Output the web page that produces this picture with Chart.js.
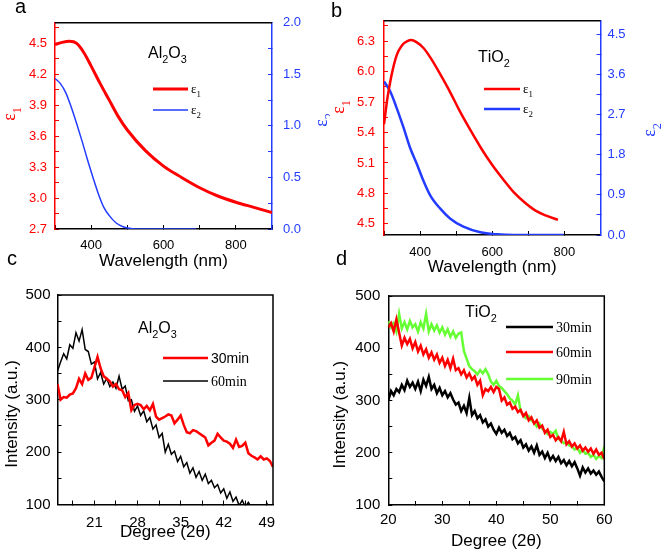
<!DOCTYPE html>
<html>
<head>
<meta charset="utf-8">
<script src="https://cdn.jsdelivr.net/npm/chart.js@4.4.1/dist/chart.umd.min.js"></script>
<style>
  body { margin: 0; background: #fff; }
  #fig { position: relative; width: 661px; height: 555px; overflow: hidden; background: #fff; }
  #fig canvas { position: absolute; }
  .tag { position: absolute; font: 20px Arial, "Liberation Sans", sans-serif; line-height: 20px; color: #000; }
</style>
</head>
<body>
<div id="fig">
  <canvas id="ca" width="330" height="275" style="left:0;top:0"></canvas>
  <canvas id="cb" width="331" height="275" style="left:330px;top:0"></canvas>
  <canvas id="cc" width="330" height="280" style="left:0;top:275px"></canvas>
  <canvas id="cd" width="331" height="280" style="left:330px;top:275px"></canvas>
  <div class="tag" style="left:15px;top:-4px">a</div>
  <div class="tag" style="left:331px;top:0px">b</div>
  <div class="tag" style="left:7px;top:248px">c</div>
  <div class="tag" style="left:336px;top:248px">d</div>
</div>
<script>
// ---- panel a: Al2O3 dielectric function ----
const wlA1 = [300, 320, 340, 360, 380, 400, 425, 450, 475, 500, 550, 600, 650, 700, 750, 800, 850, 900];
const eps1A = [4.49, 4.51, 4.52, 4.50, 4.41, 4.28, 4.11, 3.95, 3.79, 3.66, 3.46, 3.31, 3.20, 3.10, 3.02, 2.96, 2.91, 2.86];
const wlA2 = [300, 315, 330, 345, 360, 375, 390, 405, 420, 435, 450, 470, 490, 510, 530, 560, 600, 650, 690];
const eps2A = [1.46, 1.41, 1.32, 1.18, 1.02, 0.85, 0.67, 0.50, 0.34, 0.21, 0.13, 0.056, 0.02, 0.005, 0, 0, 0, 0, 0];

// ---- panel b: TiO2 dielectric function ----
const wlB1 = [300, 310, 320, 335, 350, 365, 375, 390, 410, 430, 455, 480, 510, 540, 570, 600, 630, 660, 690, 720, 750, 782];
const eps1B = [5.48, 5.75, 5.95, 6.16, 6.26, 6.30, 6.31, 6.29, 6.23, 6.13, 5.98, 5.82, 5.61, 5.42, 5.24, 5.08, 4.94, 4.81, 4.71, 4.63, 4.58, 4.54];
const wlB2 = [300, 317, 335, 354, 372, 391, 409, 428, 456, 483, 520, 567, 613, 660, 700, 750, 798];
const eps2B = [3.44, 3.22, 2.85, 2.41, 1.96, 1.59, 1.22, 0.89, 0.59, 0.37, 0.185, 0.06, 0.015, 0, 0, 0, 0];

// ---- panel c: Al2O3 XRD ----
const degC = [15, 15.5, 16, 16.5, 17, 17.5, 18, 18.5, 19, 19.5, 20, 20.5, 21, 21.5, 22, 22.5, 23, 23.5, 24, 24.5,
  25, 25.5, 26, 26.5, 27, 27.5, 28, 28.5, 29, 29.5, 30, 30.5, 31, 31.5, 32, 32.5, 33, 33.5, 34, 34.5,
  35, 35.5, 36, 36.5, 37, 37.5, 38, 38.5, 39, 39.5, 40, 40.5, 41, 41.5, 42, 42.5, 43, 43.5, 44, 44.5,
  45, 45.5, 46, 46.5, 47, 47.5, 48, 48.5, 49, 49.5, 50];
const int30C = [330, 300, 305, 304, 310, 312, 322, 340, 330, 350, 338, 342, 362, 382, 360, 345, 340, 335, 325, 330,
  320, 318, 305, 313, 280, 290, 292, 290, 282, 288, 280, 292, 268, 262, 265, 268, 272, 270, 255, 262,
  270, 252, 238, 236, 242, 240, 236, 232, 228, 213, 218, 222, 235, 228, 222, 220, 216, 208, 224, 210,
  212, 218, 198, 193, 190, 186, 192, 186, 188, 183, 172];
const int60C = [355, 372, 388, 378, 405, 398, 428, 412, 434, 396, 392, 368, 372, 340, 352, 330, 341, 325, 334, 322,
  345, 320, 326, 298, 300, 278, 288, 270, 279, 258, 266, 244, 252, 228, 236, 200, 215, 196, 202, 182,
  192, 172, 180, 160, 170, 152, 163, 146, 158, 140, 146, 132, 138, 122, 130, 112, 124, 106, 114, 98,
  108, 96, 104, 94, 98, 92, 96, 90, 102, 92, 95];

// ---- panel d: TiO2 XRD ----
const degD = [20, 20.5, 21, 21.5, 22, 22.5, 23, 23.5, 24, 24.5, 25, 25.5, 26, 26.5, 27, 27.5, 28, 28.5, 29, 29.5,
  30, 30.5, 31, 31.5, 32, 32.5, 33, 33.5, 34, 34.5, 35, 35.5, 36, 36.5, 37, 37.5, 38, 38.5, 39, 39.5,
  40, 40.5, 41, 41.5, 42, 42.5, 43, 43.5, 44, 44.5, 45, 45.5, 46, 46.5, 47, 47.5, 48, 48.5, 49, 49.5,
  50, 50.5, 51, 51.5, 52, 52.5, 53, 53.5, 54, 54.5, 55, 55.5, 56, 56.5, 57, 57.5, 58, 58.5, 59, 59.5, 60];
const int30D = [300, 318, 310, 322, 316, 330, 320, 338, 326, 334, 322, 336, 318, 340, 328, 345, 322, 330, 314, 324,
  310, 318, 306, 314, 302, 292, 296, 280, 290, 276, 305, 272, 280, 266, 272, 258, 264, 250, 256, 244,
  236, 248, 238, 244, 232, 238, 226, 230, 218, 224, 210, 216, 204, 212, 200, 214, 196, 202, 190, 200,
  186, 194, 184, 192, 180, 186, 176, 184, 174, 182, 170, 156, 172, 162, 170, 160, 166, 158, 164, 154, 145];
const int60D = [440, 448, 432, 455, 430, 405, 420, 408, 418, 400, 412, 394, 405, 388, 398, 382, 392, 378, 388, 372,
  382, 366, 378, 362, 380, 358, 362, 350, 358, 344, 352, 340, 346, 330, 338, 310, 322, 318, 326, 316,
  326, 322, 300, 306, 292, 296, 284, 288, 278, 282, 270, 276, 262, 268, 256, 262, 248, 252, 238, 244,
  230, 234, 224, 230, 222, 240, 216, 222, 212, 218, 208, 214, 204, 210, 202, 208, 198, 206, 196, 200, 188];
const int90D = [452, 440, 448, 432, 466, 438, 450, 436, 452, 440, 446, 432, 450, 438, 466, 432, 446, 434, 444, 430,
  440, 426, 436, 422, 432, 420, 428, 430, 395, 380, 366, 360, 356, 350, 358, 352, 360, 350, 336, 330,
  338, 328, 324, 318, 312, 304, 300, 292, 310, 280, 272, 266, 270, 262, 258, 250, 256, 246, 242, 236,
  240, 236, 242, 226, 224, 218, 220, 214, 212, 206, 210, 200, 206, 198, 200, 192, 196, 188, 194, 190, 212];

// ---- tick labels (major, labelled) and minor tick positions ----
const waveTicks = ['400', '600', '800'];
const waveMinor = [300, 500, 700, 900];
const eps1TicksA = ['2.7', '3.0', '3.3', '3.6', '3.9', '4.2', '4.5'];
const eps1MinorA = [2.85, 3.15, 3.45, 3.75, 4.05, 4.35, 4.65];
const eps2TicksA = ['0.0', '0.5', '1.0', '1.5', '2.0'];
const eps2MinorA = [0.25, 0.75, 1.25, 1.75];
const eps1TicksB = ['4.5', '4.8', '5.1', '5.4', '5.7', '6.0', '6.3'];
const eps1MinorB = [4.65, 4.95, 5.25, 5.55, 5.85, 6.15, 6.45];
const eps2TicksB = ['0.0', '0.9', '1.8', '2.7', '3.6', '4.5'];
const eps2MinorB = [0.45, 1.35, 2.25, 3.15, 4.05];
const degTicksC = ['21', '28', '35', '42', '49'];
const degMinorC = [17.5, 24.5, 31.5, 38.5, 45.5];
const degTicksD = ['20', '30', '40', '50', '60'];
const degMinorD = [25, 35, 45, 55];
const intTicks = ['100', '200', '300', '400', '500'];
const intMinor = [150, 250, 350, 450];

const RED = 'rgb(255,0,0)', BLUE = 'rgb(35,60,255)', BLACK = '#000', GREEN = 'rgb(102,255,51)';
const SANS = 'Arial, "Liberation Sans", sans-serif';
const SERIF = '"Times New Roman", "Liberation Serif", serif';

Chart.defaults.font.family = SANS;
Chart.defaults.animation = false;

// text like 'Al_2O_3': the char after _ is drawn as a subscript; returns end x
function richText(ctx, text, x, y, size, family, color, measureOnly) {
	ctx.fillStyle = color;
	ctx.textBaseline = 'alphabetic';
	ctx.textAlign = 'left';
	for (let i = 0; i < text.length; i++) {
		let ch = text[i], sub = false;
		if (ch === '_') { ch = text[++i]; sub = true; }
		const s = sub ? size * 0.68 : size;
		ctx.font = s + 'px ' + family;
		if (!measureOnly) ctx.fillText(ch, x, y + (sub ? size * 0.3 : 0));
		x += ctx.measureText(ch).width;
	}
	return x;
}

// rotated (bottom-to-top) axis title centred on cx, cy
function sideTitle(ctx, t) {
	ctx.save();
	ctx.translate(t.x, t.y);
	ctx.rotate(-Math.PI / 2);
	const w = richText(ctx, t.text, 0, 0, t.size, SERIF, t.color, true);
	richText(ctx, t.text, -w / 2, t.size * 0.3, t.size, SERIF, t.color);
	ctx.restore();
}

// frame, sample name, side titles and inset legend
const extras = {
	id: 'extras',
	afterDatasetsDraw(chart, args, o) {
		const ctx = chart.ctx, a = chart.chartArea;
		ctx.save();
		ctx.strokeStyle = BLACK;
		ctx.lineWidth = 1.5;
		ctx.beginPath();
		ctx.moveTo(a.left, a.top);
		ctx.lineTo(a.right, a.top);
		if (o.boxRight) ctx.lineTo(a.right, a.bottom);
		ctx.stroke();
		richText(ctx, o.note, o.noteX, o.noteY, 16, SANS, BLACK);
		(o.sides || []).forEach(t => sideTitle(ctx, t));
		chart.data.datasets.forEach((ds, i) => {
			const y = o.legY[i];
			ctx.strokeStyle = ds.borderColor;
			ctx.lineWidth = ds.borderWidth;
			ctx.beginPath();
			ctx.moveTo(o.legX, y);
			ctx.lineTo(o.legX + o.legLen, y);
			ctx.stroke();
			richText(ctx, ds.label, o.legX + o.legLen + 3, y + o.legBase, o.legSize, o.legFonts[i], BLACK);
		});
		ctx.restore();
	}
};

function axis(pos, min, max, major, minor, color, fontSize, pad, size, title) {
	return {
		type: 'linear', position: pos, min: min, max: max,
		afterBuildTicks: s => {
			s.ticks = major.map(Number).concat(minor).sort((p, q) => p - q).map(v => ({ value: v }));
		},
		afterFit: s => { if (pos === 'bottom') s.height = size; else s.width = size; },
		ticks: {
			autoSkip: false, maxRotation: 0, color: color, font: { size: fontSize }, padding: pad,
			callback: v => major.find(t => Math.abs(Number(t) - v) < 1e-6) || ''
		},
		grid: { drawOnChartArea: false, tickLength: -4, tickColor: color, tickWidth: 1 },
		border: { color: color, width: 1.5 },
		title: title || { display: false }
	};
}

function title(text, size, padTop, padBottom) {
	return { display: true, text: text, color: BLACK, font: { size: size }, padding: { top: padTop, bottom: padBottom } };
}

function series(label, xs, ys, color, width, axisId, smooth) {
	return {
		label: label,
		data: xs.map((x, i) => ({ x: x, y: ys[i] })),
		borderColor: color, borderWidth: width, pointRadius: 0, fill: false,
		yAxisID: axisId, tension: 0,
		cubicInterpolationMode: smooth ? 'monotone' : 'default'
	};
}

function baseOptions(padding, extra, scales) {
	return {
		responsive: false, events: [],
		layout: { padding: padding },
		plugins: { legend: { display: false }, tooltip: { enabled: false }, extras: extra },
		scales: scales
	};
}

new Chart(document.getElementById('ca'), {
	type: 'line',
	data: { datasets: [
		series('ε_1', wlA1, eps1A, RED, 3, 'y', true),
		series('ε_2', wlA2, eps2A, BLUE, 1.5, 'y2', true)
	] },
	options: baseOptions({ top: 13 },
		{
			note: 'Al_2O_3', noteX: 148, noteY: 58, legX: 153, legY: [89, 110], legLen: 35, legBase: 4, legSize: 13, legFonts: [SERIF, SERIF],
			sides: [{ text: 'ε_1', x: 10, y: 114, size: 18, color: RED }, { text: 'ε_2', x: 322, y: 120, size: 18, color: BLUE }]
		},
		{
			x: axis('bottom', 300, 900, waveTicks, waveMinor, BLACK, 13, 13, 46, title('Wavelength (nm)', 17, 0, 3)),
			y: axis('left', 2.7, 4.7, eps1TicksA, eps1MinorA, RED, 13, 12, 55),
			y2: axis('right', 0, 2.0, eps2TicksA, eps2MinorA, BLUE, 13, 15, 58)
		}),
	plugins: [extras]
});

new Chart(document.getElementById('cb'), {
	type: 'line',
	data: { datasets: [
		series('ε_1', wlB1, eps1B, RED, 2.5, 'y', true),
		series('ε_2', wlB2, eps2B, BLUE, 2.5, 'y2', true)
	] },
	options: baseOptions({ top: 18 },
		{
			note: 'TiO_2', noteX: 148, noteY: 62, legX: 154, legY: [89, 109], legLen: 36, legBase: 4, legSize: 13, legFonts: [SERIF, SERIF],
			sides: [{ text: 'ε_1', x: 9, y: 107, size: 18, color: RED }, { text: 'ε_2', x: 320, y: 130, size: 18, color: BLUE }]
		},
		{
			x: axis('bottom', 300, 900, waveTicks, waveMinor, BLACK, 13, 14, 40, title('Wavelength (nm)', 17, 0, -3)),
			y: axis('left', 4.39, 6.5, eps1TicksB, eps1MinorB, RED, 13, 13, 54),
			y2: axis('right', 0, 4.8, eps2TicksB, eps2MinorB, BLUE, 13, 11, 60.5)
		}),
	plugins: [extras]
});

new Chart(document.getElementById('cc'), {
	type: 'line',
	data: { datasets: [
		series('30min', degC, int30C, RED, 2.5, 'y', false),
		series('60min', degC, int60C, BLACK, 1.5, 'y', false)
	] },
	options: baseOptions({ top: 13, right: 57 },
		{ note: 'Al_2O_3', noteX: 138, noteY: 58, boxRight: true, legX: 163, legY: [83, 106], legLen: 45, legBase: 5, legSize: 14, legFonts: [SANS, SERIF] },
		{
			x: axis('bottom', 15, 50, degTicksC, degMinorC, BLACK, 15, 13, 50.5, title('Degree (2θ)', 17, 0, 12)),
			y: axis('left', 100, 500, intTicks, intMinor, BLACK, 15, 11, 57.5, title('Intensity (a.u.)      ', 17, 2, 0))
		}),
	plugins: [extras]
});

new Chart(document.getElementById('cd'), {
	type: 'line',
	data: { datasets: [
		series('30min', degD, int30D, BLACK, 2.5, 'y', false),
		series('60min', degD, int60D, RED, 2.5, 'y', false),
		series('90min', degD, int90D, GREEN, 2.5, 'y', false)
	] },
	options: baseOptions({ top: 15, right: 56.7 },
		{ note: 'TiO_2', noteX: 135, noteY: 42, boxRight: true, legX: 176, legY: [52, 77, 104], legLen: 47, legBase: 5, legSize: 14, legFonts: [SERIF, SERIF, SERIF] },
		{
			x: axis('bottom', 20, 60, degTicksD, degMinorD, BLACK, 15, 10, 50, title('Degree (2θ)', 17, 0, 3)),
			y: axis('left', 100, 500, intTicks, intMinor, BLACK, 15, 12, 58.3, title('Intensity (a.u.)      ', 17, 0, 0))
		}),
	plugins: [extras]
});
</script>
</body>
</html>
